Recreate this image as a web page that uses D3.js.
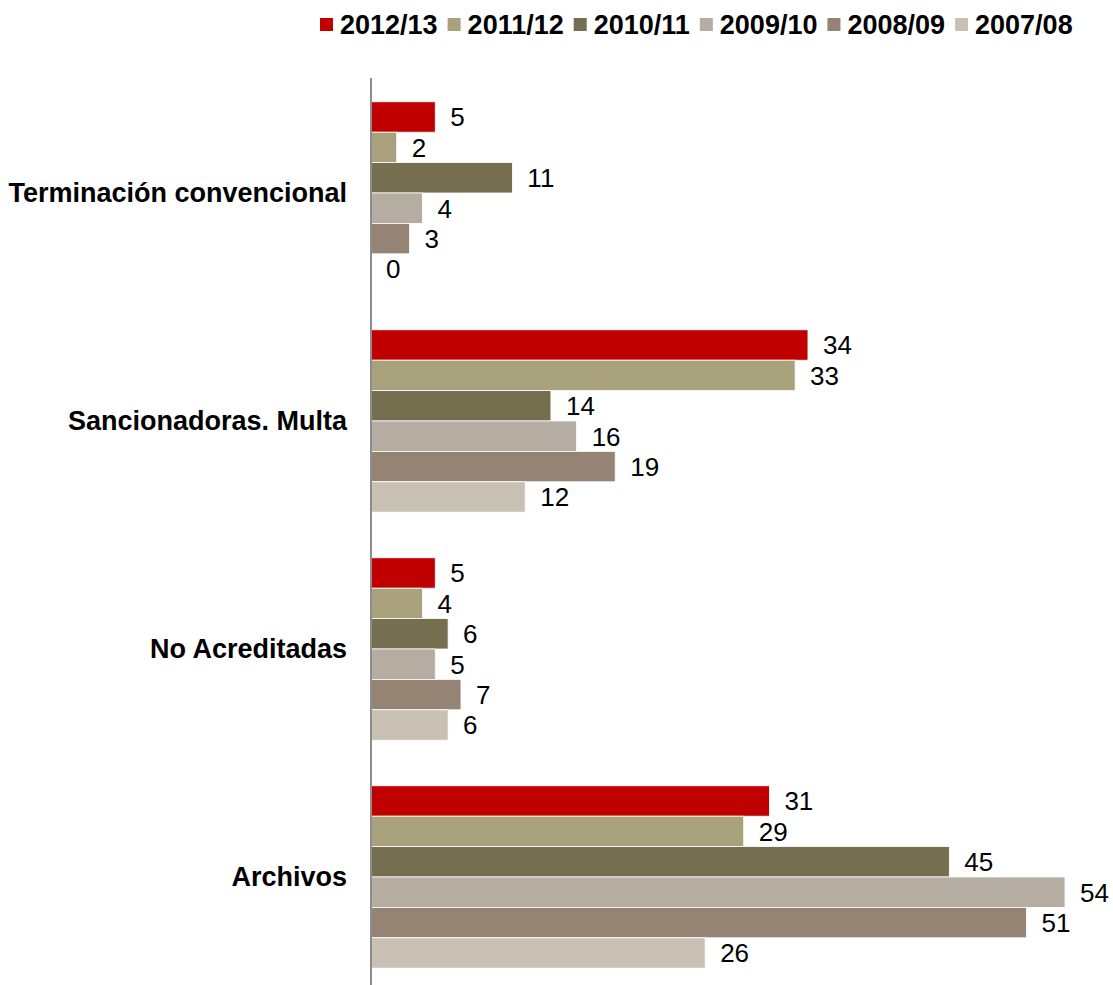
<!DOCTYPE html>
<html>
<head>
<meta charset="utf-8">
<script src="https://cdn.jsdelivr.net/npm/d3@7"></script>
<style>
  html, body { margin: 0; padding: 0; background: #fff; }
  svg { display: block; }
  text { font-family: Arial, "Liberation Sans", sans-serif; }
</style>
</head>
<body>
<svg id="chart" width="1113" height="985"></svg>
<script>
const categories = ["Terminación convencional", "Sancionadoras. Multa", "No Acreditadas", "Archivos"];
const seriesNames = ["2012/13", "2011/12", "2010/11", "2009/10", "2008/09", "2007/08"];
const seriesColors = ["#C00000", "#A9A17B", "#756F50", "#B5ACA2", "#958473", "#C8C1B3"];
const s2012_13 = [5, 34, 5, 31];
const s2011_12 = [2, 33, 4, 29];
const s2010_11 = [11, 14, 6, 45];
const s2009_10 = [4, 16, 5, 54];
const s2008_09 = [3, 19, 7, 51];
const s2007_08 = [0, 12, 6, 26];
const seriesValues = [s2012_13, s2011_12, s2010_11, s2009_10, s2008_09, s2007_08];

const svg = d3.select("#chart");
const x0 = 371;
const x = d3.scaleLinear().domain([0, 54]).range([x0, 1065]);
const y = d3.scaleBand().domain(categories).range([79, 991]).paddingInner(0.2).paddingOuter(0.1);
const ySub = d3.scaleBand().domain(seriesNames).range([0, y.bandwidth()]).padding(0);

const data = [];
categories.forEach((c, ci) => {
  seriesNames.forEach((s, si) => {
    data.push({ cat: c, series: s, color: seriesColors[si], value: seriesValues[si][ci] });
  });
});

const g = svg.append("g");
g.selectAll("rect.bar").data(data).join("rect")
  .attr("class", "bar")
  .attr("x", x(0))
  .attr("y", d => y(d.cat) + ySub(d.series))
  .attr("width", d => x(d.value) - x(0))
  .attr("height", ySub.bandwidth())
  .attr("fill", d => d.color)
  .attr("stroke", "#ffffff")
  .attr("stroke-width", 0.8);

g.selectAll("text.val").data(data).join("text")
  .attr("class", "val")
  .attr("x", d => x(d.value) + 15)
  .attr("y", d => y(d.cat) + ySub(d.series) + ySub.bandwidth() / 2)
  .attr("dy", "0.36em")
  .attr("font-size", "26px")
  .attr("fill", "#000")
  .text(d => d.value);

// vertical axis line
const yAxis = d3.axisLeft(y).tickSize(0).tickPadding(24);
const ax = svg.append("g").attr("transform", `translate(${x0},0)`).call(yAxis);
ax.select(".domain").attr("stroke", "#8c8c8c").attr("stroke-width", 2).attr("d", "M0,78V991");
ax.selectAll(".tick text")
  .attr("font-size", "27px")
  .attr("font-weight", "bold")
  .attr("font-family", "Arial, 'Liberation Sans', sans-serif")
  .attr("fill", "#000");

// legend
const legend = svg.append("g").attr("transform", "translate(320,24)");
let lx = 0;
seriesNames.forEach((s, i) => {
  const item = legend.append("g").attr("transform", `translate(${lx},0)`);
  item.append("rect").attr("x", 0).attr("y", -6).attr("width", 13).attr("height", 13).attr("fill", seriesColors[i]);
  const t = item.append("text").attr("x", 20).attr("y", 0).attr("dy", "0.36em")
    .attr("font-size", "27px").attr("font-weight", "bold").attr("fill", "#000").text(s);
  lx += 20 + t.node().getComputedTextLength() + 10;
});
</script>
</body>
</html>
